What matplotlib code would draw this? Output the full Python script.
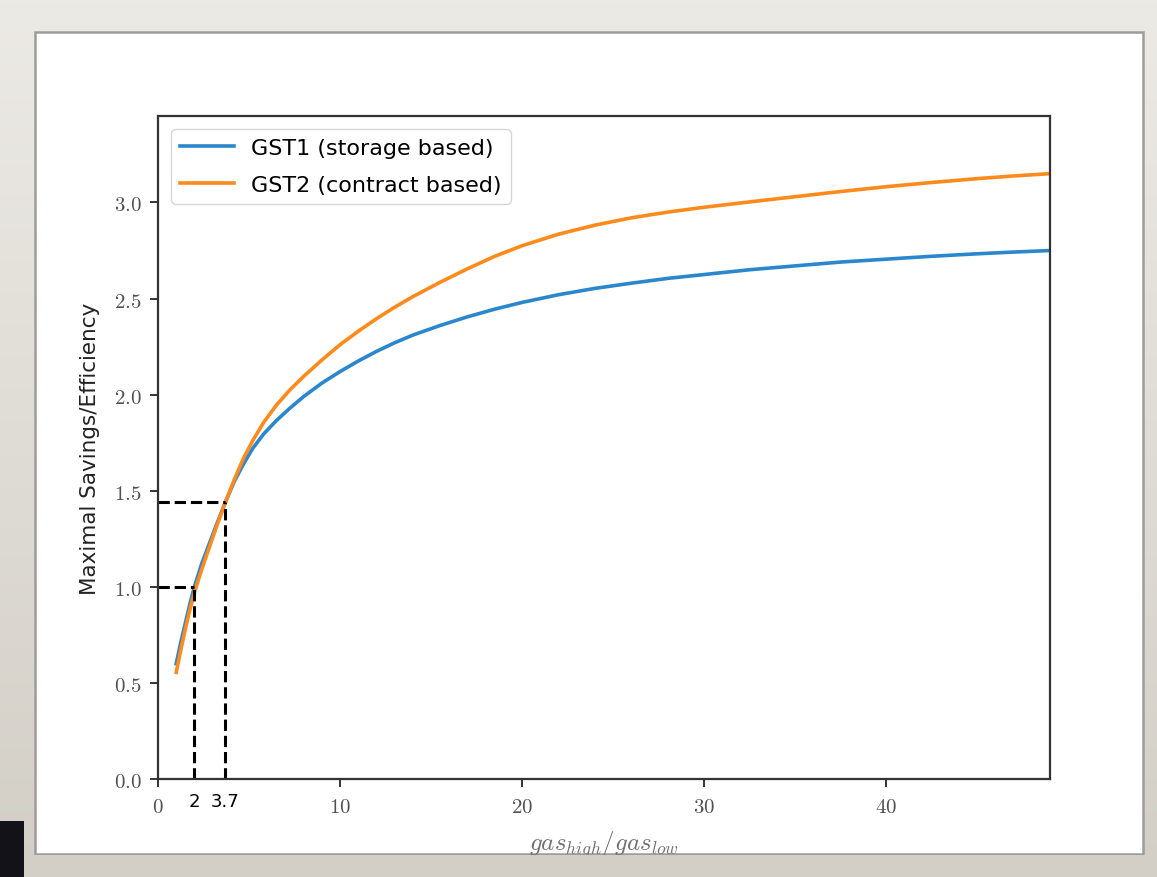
import numpy as np
import matplotlib
matplotlib.use("Agg")
import matplotlib.pyplot as plt
import matplotlib.transforms as mtransforms
from matplotlib.colors import LinearSegmentedColormap
from matplotlib.patches import Rectangle
from matplotlib.ticker import FuncFormatter

# Values.
ratio = [1.0, 1.25, 1.5, 1.75, 2.0, 2.4, 2.8, 3.2, 3.7, 4.2, 4.7, 5.2, 5.8,
         6.5, 7.25, 8.0, 9.0, 10.0, 11.0, 12.0, 13.0, 14.0, 15.5, 17.0,
         18.5, 20.0, 22.0, 24.0, 26.0, 28.0, 30.0, 32.5, 35.0, 37.5, 40.0,
         42.5, 45.0, 47.0, 49.0]
savings_gst1 = [0.60, 0.71, 0.81, 0.91, 1.00, 1.12, 1.22, 1.32, 1.44, 1.55,
                1.64, 1.72, 1.795, 1.865, 1.93, 1.99, 2.06, 2.12, 2.175, 2.225,
                2.27, 2.31, 2.36, 2.405, 2.445, 2.48, 2.52, 2.553, 2.58, 2.605,
                2.625, 2.65, 2.67, 2.69, 2.705, 2.72, 2.733, 2.742, 2.75]
savings_gst2 = [0.555, 0.67, 0.78, 0.88, 0.97, 1.09, 1.20, 1.31, 1.44, 1.56,
                1.67, 1.76, 1.855, 1.945, 2.025, 2.095, 2.18, 2.26, 2.33, 2.395,
                2.455, 2.51, 2.585, 2.655, 2.72, 2.775, 2.835, 2.882, 2.92, 2.95,
                2.975, 3.003, 3.03, 3.057, 3.082, 3.104, 3.124, 3.138, 3.15]
series_labels = ["GST1 (storage based)", "GST2 (contract based)"]
marked_ratios = [2, 3.7]
marked_labels = ["2", "3.7"]
marked_savings = [1.0, 1.44]
x_ticks = [0, 10, 20, 30, 40]
y_ticks = [0.0, 0.5, 1.0, 1.5, 2.0, 2.5, 3.0]

W, H = 1157, 878
plt.rcParams["mathtext.fontset"] = "cm"
fig = plt.figure(figsize=(W / 100, H / 100), dpi=100)

# Slide background and the white panel the chart sits on.
bg = fig.add_axes([0, 0, 1, 1], zorder=-10)
cmap = LinearSegmentedColormap.from_list("slide", ["#eceae5", "#d3cfc7"])
bg.imshow(np.linspace(0, 1, 256)[:, None], cmap=cmap, aspect="auto",
          extent=[0, 1, 0, 1])
bg.set_axis_off()

def px(x0, y0, x1, y1):
    return (x0 / W, 1 - y1 / H), (x1 - x0) / W, (y1 - y0) / H

xy, w, h = px(35, 33, 1143, 855)
fig.patches.append(Rectangle(xy, w, h, transform=fig.transFigure,
                             facecolor="white", edgecolor="#9c9c9c", lw=1.8, zorder=-5))

ax = fig.add_axes([158 / W, 1 - 780 / H, (1050 - 158) / W, (780 - 117) / H])

ax.plot(ratio, savings_gst1, color="#2b87cd", lw=2.6, label=series_labels[0])
ax.plot(ratio, savings_gst2, color="#ff8a1c", lw=2.6, label=series_labels[1])

for r, s in zip(marked_ratios, marked_savings):
    ax.plot([0, r], [s, s], color="black", ls="--", lw=2.2)
    ax.plot([r, r], [0, s], color="black", ls="--", lw=2.2)

trans = mtransforms.blended_transform_factory(ax.transData, ax.transAxes)
for r, lab in zip(marked_ratios, marked_labels):
    ax.text(r, -0.033, lab, transform=trans, ha="center", va="center",
            fontsize=13, family="DejaVu Sans", color="black")

ax.set_xlim(0, 49)
ax.set_ylim(0, 3.45)
ax.set_xticks(x_ticks)
ax.set_yticks(y_ticks)
ax.xaxis.set_major_formatter(FuncFormatter(lambda v, p: f"${v:g}$"))
ax.yaxis.set_major_formatter(FuncFormatter(lambda v, p: f"${v:.1f}$"))
ax.tick_params(direction="out", length=6, width=1.4, color="#333333",
               labelsize=15, labelcolor="#505050", pad=6)
for sp in ax.spines.values():
    sp.set_linewidth(1.6)
    sp.set_color("#333333")

ax.set_ylabel("Maximal Savings/Efficiency", fontsize=15.5,
              family="DejaVu Sans", color="#222222", labelpad=10)
ax.set_xlabel(r"$gas_{high}/gas_{low}$", fontsize=18, color="#707070",
              labelpad=9)

ax.legend(loc="upper left", prop={"family": "DejaVu Sans", "size": 16},
          handlelength=2.4, labelspacing=0.75, framealpha=0.8,
          borderaxespad=0.6)

# Slide strip covering the bottom of the panel, plus the dark block at lower left.
xy, w, h = px(0, 856, W, H)
fig.patches.append(Rectangle(xy, w, h, transform=fig.transFigure,
                             facecolor="#d3cfc7", edgecolor="none", zorder=10))
xy, w, h = px(0, 822, 24, H)
fig.patches.append(Rectangle(xy, w, h, transform=fig.transFigure,
                             facecolor="#121218", edgecolor="none", zorder=11))

fig.savefig("out.png", dpi=100)
